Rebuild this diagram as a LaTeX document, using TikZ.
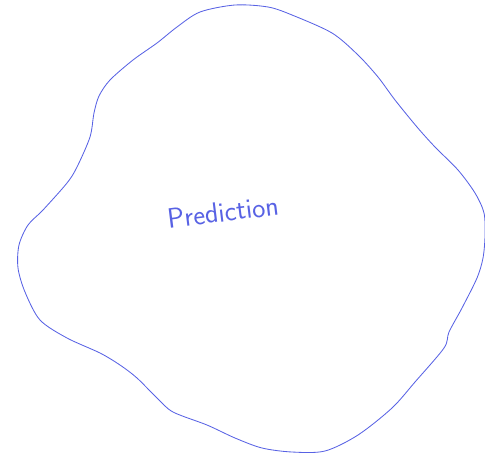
\documentclass[tikz,border=0pt]{standalone}
\usepackage{fontspec}
\usepackage{tikz}
\definecolor{penblue}{RGB}{88,98,228}
\tikzset{blob/.style={draw=penblue,line width=0.6pt,line join=round}}

\begin{document}
\begin{tikzpicture}[x=0.025cm,y=-0.025cm]
\useasboundingbox (0,0) rectangle (485,455);
\draw[blob] plot[smooth cycle,tension=0.5] coordinates {
 (235,5) (268,7) (292,15) (332,33) (358,55) (378,77) (395,100) (417,127)
 (435,147) (458,170) (475,193) (484,213) (485,236) (483,258) (477,278)
 (462,308) (449,332) (444,348) (415,382) (392,408) (358,435) (325,451)
 (292,452) (262,448) (235,438) (207,425) (173,412) (157,398) (137,378)
 (120,365) (100,353) (67,338) (40,320) (25,292) (18,268) (19,245)
 (28,225) (43,210) (67,183) (77,167) (90,137) (94,113) (99,96) (110,80)
 (133,60) (157,43) (177,27) (200,12)};
\node[text=penblue,font=\fontsize{20}{24}\sffamily,rotate=7,inner sep=0pt] (pred) at (223,212) {Prediction};
\end{tikzpicture}
\end{document}
